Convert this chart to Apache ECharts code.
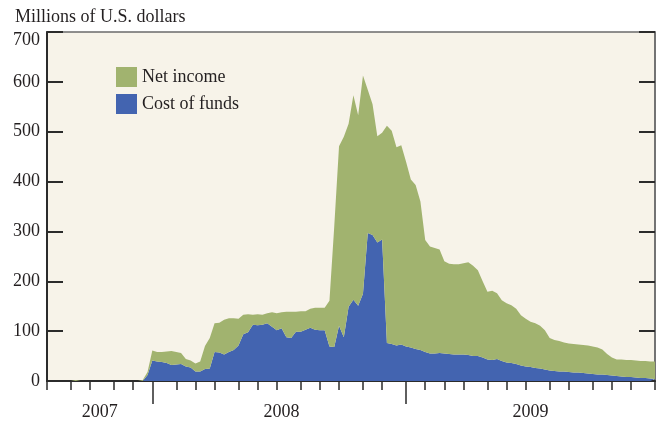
<!DOCTYPE html>
<html>
<head>
<meta charset="utf-8">
<script src="https://cdn.jsdelivr.net/npm/echarts@6/dist/echarts.min.js"></script>
<style>
  html, body { margin: 0; padding: 0; background: #fff; }
  #chart { width: 659px; height: 424px; }
</style>
</head>
<body>
<div id="chart"></div>
<script>
// weekly observations, first week is Wed 2007-08-01
const startDate = '2007-08-01'
const weekCount = 128

// millions of U.S. dollars
const costOfFunds = [
  0, 0, 0, 0, 0, 0, 0, 0, 0, 0,
  0, 0, 0, 0, 0, 0, 0, 0, 0, 0,
  0, 12, 41, 39, 38, 36, 32, 33, 34, 29,
  27, 19, 19, 24, 25, 58, 57, 53, 58, 62,
  71, 94, 98, 113, 112, 113, 116, 109, 102, 106,
  88, 86, 99, 99, 103, 107, 103, 102, 102, 69,
  68, 111, 88, 149, 163, 151, 175, 297, 293, 278,
  284, 76, 74, 71, 73, 69, 67, 64, 62, 58,
  55, 55, 56, 55, 54, 53, 53, 53, 52, 50,
  50, 47, 43, 42, 44, 40, 37, 36, 34, 31,
  29, 28, 26, 25, 23, 21, 20, 19, 19, 18,
  17, 17, 16, 15, 14, 13, 13, 12, 11, 10,
  9, 8, 8, 7, 6, 6, 5, 4
]
const netIncome = [
  0, 0, 0, 0, 0, 0, 2, 0, 0, 0,
  0, 0, 0, 0, 0, 0, 0, 0, 0, 0,
  2, 6, 20, 19, 20, 23, 28, 25, 22, 15,
  14, 16, 20, 46, 61, 58, 60, 70, 68, 64,
  54, 39, 36, 20, 22, 20, 20, 29, 34, 32,
  51, 53, 40, 41, 37, 38, 44, 45, 45, 92,
  242, 360, 402, 367, 410, 382, 438, 287, 262, 213,
  214, 436, 428, 398, 400, 371, 337, 329, 298, 225,
  215, 212, 208, 185, 181, 181, 181, 183, 186, 181,
  172, 153, 136, 139, 132, 122, 119, 116, 111, 101,
  96, 91, 90, 86, 79, 65, 62, 61, 58, 57,
  57, 56, 56, 56, 55, 54, 50, 42, 36, 33,
  34, 34, 34, 34, 34, 34, 34, 35
]
const yMin = 0
const yMax = 700
const yStep = 100

const serif = 'Liberation Serif'
const green = '#a1b36f'
const blue = '#4364b0'

// week categories
const weeks = []
const t0 = Date.parse(startDate + 'T00:00:00Z')
for (let i = 0; i < weekCount; i++) {
  weeks.push(new Date(t0 + i * 7 * 86400000).toISOString().slice(0, 10))
}
const monthOf = s => s.slice(0, 7)
const yearOf = s => s.slice(0, 4)

const isMonthStart = i => i === 0 || monthOf(weeks[i]) !== monthOf(weeks[i - 1])
const isYearStart = i => i > 0 && yearOf(weeks[i]) !== yearOf(weeks[i - 1])

// year labels sit in the middle of each year's span on the axis
const bounds = [0]
for (let i = 1; i < weeks.length; i++) if (isYearStart(i)) bounds.push(i)
if (bounds[bounds.length - 1] !== weeks.length - 1) bounds.push(weeks.length - 1)
const yearLabelIdx = new Set()
for (let k = 0; k + 1 < bounds.length; k++) {
  yearLabelIdx.add(Math.round((bounds[k] + bounds[k + 1]) / 2))
}

const chart = echarts.init(document.getElementById('chart'))
chart.setOption({
  animation: false,
  backgroundColor: '#fff',
  title: {
    text: 'Millions of U.S. dollars',
    left: 10,
    top: 3,
    textStyle: { fontFamily: serif, fontSize: 18, fontWeight: 'normal', color: '#231f20' }
  },
  legend: {
    orient: 'vertical',
    left: 111,
    top: 62,
    icon: 'rect',
    itemWidth: 21,
    itemHeight: 20,
    itemGap: 7,
    data: ['Net income', 'Cost of funds'],
    textStyle: { fontFamily: serif, fontSize: 18, color: '#231f20' }
  },
  grid: {
    left: 47,
    right: 4,
    top: 32,
    bottom: 43,
    outerBoundsMode: 'none',
    show: true,
    backgroundColor: '#f7f3e9',
    borderColor: '#6b6b6b',
    borderWidth: 1.5
  },
  xAxis: [
    {
      type: 'category',
      data: weeks,
      boundaryGap: false,
      position: 'bottom',
      axisLine: { lineStyle: { color: '#2b2b2b', width: 2 } },
      axisTick: {
        length: 9,
        interval: (i) => isMonthStart(i),
        lineStyle: { color: '#2b2b2b', width: 1.5 }
      },
      axisLabel: {
        interval: (i) => yearLabelIdx.has(i),
        formatter: (v) => yearOf(v),
        margin: 22,
        fontFamily: serif,
        fontSize: 18,
        color: '#231f20'
      },
      splitLine: { show: false }
    },
    {
      type: 'category',
      data: weeks,
      boundaryGap: false,
      position: 'bottom',
      axisLine: { show: false },
      axisTick: {
        length: 23,
        interval: (i) => isYearStart(i) && i < weeks.length - 1,
        lineStyle: { color: '#2b2b2b', width: 1.5 }
      },
      axisLabel: { show: false },
      splitLine: { show: false }
    }
  ],
  yAxis: [
    {
      type: 'value',
      position: 'left',
      min: yMin,
      max: yMax,
      interval: yStep,
      axisLine: { show: true, lineStyle: { color: '#2b2b2b', width: 2 } },
      axisTick: { show: true, inside: true, length: 16, lineStyle: { color: '#2b2b2b', width: 2 } },
      axisLabel: {
        margin: 7,
        fontFamily: serif,
        fontSize: 18,
        color: '#231f20',
        // top label is pushed down so it stays under the frame
        formatter: (v) => v === yMax ? '{top|' + v + '}' : String(v),
        rich: { top: { fontFamily: serif, fontSize: 18, color: '#231f20', padding: [16, 0, 0, 0] } }
      },
      splitLine: { show: false }
    },
    {
      type: 'value',
      position: 'right',
      min: yMin,
      max: yMax,
      interval: yStep,
      axisLine: { show: true, lineStyle: { color: '#6b6b6b', width: 1.5 } },
      axisTick: { show: true, inside: true, length: 16, lineStyle: { color: '#2b2b2b', width: 2 } },
      axisLabel: { show: false },
      splitLine: { show: false }
    }
  ],
  series: [
    {
      name: 'Cost of funds',
      type: 'line',
      stack: 'total',
      data: costOfFunds,
      showSymbol: false,
      lineStyle: { width: 0 },
      itemStyle: { color: blue },
      areaStyle: { color: blue, opacity: 1 }
    },
    {
      name: 'Net income',
      type: 'line',
      stack: 'total',
      data: netIncome,
      showSymbol: false,
      lineStyle: { width: 0 },
      itemStyle: { color: green },
      areaStyle: { color: green, opacity: 1 }
    }
  ]
})
</script>
</body>
</html>
